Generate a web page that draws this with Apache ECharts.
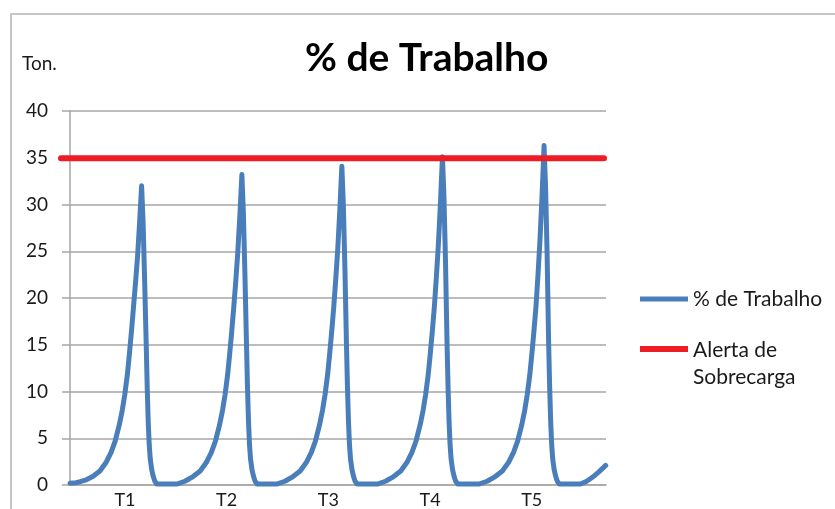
<!DOCTYPE html>
<html>
<head>
<meta charset="utf-8">
<script src="https://cdn.jsdelivr.net/npm/echarts@6/dist/echarts.min.js"></script>
<style>
  html, body { margin: 0; padding: 0; background: #fff; }
  #chart { width: 835px; height: 509px; }
</style>
</head>
<body>
<div id="chart"></div>
<script>
// eixo X: T1 = 100, T2 = 200 ...
const tickValues = [100, 200, 300, 400, 500];
const tickLabels = ["T1", "T2", "T3", "T4", "T5"];

// % de Trabalho
const workX = [
  46, 52, 56, 62,
  68.4, 75.4, 81.4, 86.4, 90.4, 94.4, 97.4, 99.9, 102.4, 104.4, 106.4, 108.4, 110.4, 112.4, 114.4, 116.4,
  117.9, 119.4, 120.9, 121.9, 122.9, 123.9, 124.9, 126.4, 127.9, 129.4, 131.4,
  151, 159, 167, 174, 180, 185, 189, 193, 196, 198.5, 201, 203, 205, 207, 209, 211, 213, 215,
  216.5, 218, 219.5, 220.5, 221.5, 222.5, 223.5, 225, 226.5, 228, 230,
  249.3, 257.3, 265.3, 272.3, 278.3, 283.3, 287.3, 291.3, 294.3, 296.8, 299.3, 301.3, 303.3, 305.3, 307.3, 309.3, 311.3, 313.3,
  314.8, 316.3, 317.8, 318.8, 319.8, 320.8, 321.8, 323.3, 324.8, 326.3, 328.3,
  348.2, 356.2, 364.2, 371.2, 377.2, 382.2, 386.2, 390.2, 393.2, 395.7, 398.2, 400.2, 402.2, 404.2, 406.2, 408.2, 410.2, 412.2,
  413.7, 415.2, 416.7, 417.7, 418.7, 419.7, 420.7, 422.2, 423.7, 425.2, 427.2,
  448.1, 456.1, 464.1, 471.1, 477.1, 482.1, 486.1, 490.1, 493.1, 495.6, 498.1, 500.1, 502.1, 504.1, 506.1, 508.1, 510.1, 512.1,
  513.6, 515.1, 516.6, 517.6, 518.6, 519.6, 520.6, 522.1, 523.6, 525.1, 527.1,
  548, 554, 560, 566, 572.7
];
const workY = [
  0.2, 0.25, 0.35, 0.55,
  0.9, 1.5, 2.4, 3.5, 4.7, 6.4, 8.0, 9.7, 11.8, 14.0, 16.4, 19.0, 21.6, 24.4, 28.0, 32.0,
  28.0, 21.8, 15.2, 10.5, 6.8, 4.3, 2.8, 1.6, 0.9, 0.4, 0.1,
  0.1, 0.4, 0.9, 1.5, 2.4, 3.5, 4.7, 6.4, 8.0, 9.7, 11.8, 14.0, 16.4, 19.0, 21.8, 24.9, 28.8, 33.2,
  29.0, 22.5, 15.2, 10.5, 6.8, 4.3, 2.8, 1.6, 0.9, 0.4, 0.1,
  0.1, 0.4, 0.9, 1.5, 2.4, 3.5, 4.7, 6.4, 8.0, 9.7, 11.8, 14.0, 16.4, 19.0, 22.0, 25.3, 29.4, 34.1,
  29.8, 23.2, 15.2, 10.5, 6.8, 4.3, 2.8, 1.6, 0.9, 0.4, 0.1,
  0.1, 0.4, 0.9, 1.5, 2.4, 3.5, 4.7, 6.4, 8.0, 9.7, 11.8, 14.0, 16.4, 19.0, 22.2, 25.7, 30.1, 35.1,
  30.7, 23.9, 15.2, 10.5, 6.8, 4.3, 2.8, 1.6, 0.9, 0.4, 0.1,
  0.1, 0.4, 0.9, 1.5, 2.4, 3.5, 4.7, 6.4, 8.0, 9.7, 11.8, 14.0, 16.4, 19.0, 22.4, 26.2, 30.9, 36.3,
  31.8, 24.7, 15.2, 10.5, 6.8, 4.3, 2.8, 1.6, 0.9, 0.4, 0.1,
  0.1, 0.4, 0.85, 1.4, 2.1
];

// Alerta de Sobrecarga (a linha sai um pouco à esquerda do eixo)
const alertX = [37, 571];
const alertY = [35, 35];

const fontFamily = "Lato";

const chart = echarts.init(document.getElementById("chart"), null, { renderer: "canvas" });

chart.setOption({
  animation: false,
  backgroundColor: "#fff",
  title: [
    {
      text: "% de Trabalho",
      left: 305,
      top: 39,
      padding: 0,
      textStyle: { fontFamily: fontFamily, fontWeight: "bold", fontSize: 39, color: "#000" },
    },
    {
      text: "Ton.",
      left: 22,
      top: 54,
      padding: 0,
      textStyle: { fontFamily: fontFamily, fontWeight: "normal", fontSize: 19, color: "#1a1a1a" },
    },
  ],
  legend: [
    {
      data: ["% de Trabalho"],
      left: 640,
      top: 285.5,
      padding: 0,
      icon: "rect",
      itemWidth: 48,
      itemHeight: 5,
      textStyle: { fontFamily: fontFamily, fontSize: 21, color: "#1a1a1a", lineHeight: 27 },
    },
    {
      data: ["Alerta de Sobrecarga"],
      left: 640,
      top: 317,
      padding: 0,
      icon: "rect",
      itemWidth: 48,
      itemHeight: 6,
      formatter: () => "{p| }\n{t|Alerta de}\n{t|Sobrecarga}",
      textStyle: {
        fontFamily: fontFamily,
        fontSize: 21,
        color: "#1a1a1a",
        rich: {
          p: { fontSize: 10, lineHeight: 30 },
          t: { fontFamily: fontFamily, fontSize: 21, color: "#1a1a1a", lineHeight: 27 },
        },
      },
    },
  ],
  grid: [
    { left: 70, right: 229, top: 111, bottom: 21 },
    { left: 61, right: 231, top: 111, bottom: 21 },
  ],
  xAxis: [
    {
      type: "value",
      min: 46,
      max: 573,
      minInterval: 100,
      maxInterval: 100,
      axisLine: { show: true, lineStyle: { color: "#a6a6a6", width: 1.5 } },
      axisTick: { show: false },
      splitLine: { show: false },
      axisLabel: {
        margin: 6,
        fontFamily: fontFamily,
        fontSize: 18,
        color: "#1a1a1a",
        showMinLabel: false,
        showMaxLabel: false,
        formatter: (v) => {
          const i = tickValues.indexOf(v);
          return i >= 0 ? tickLabels[i] : "";
        },
      },
    },
    { gridIndex: 1, type: "value", min: 37, max: 571, show: false },
  ],
  yAxis: [
    {
      type: "value",
      min: 0,
      max: 40,
      interval: 5,
      axisLine: { show: true, lineStyle: { color: "#a6a6a6", width: 1.5 } },
      axisTick: { show: true, length: 8, lineStyle: { color: "#a6a6a6", width: 1.5 } },
      splitLine: { show: true, lineStyle: { color: "#a6a6a6", width: 1.5 } },
      axisLabel: { margin: 22, fontFamily: fontFamily, fontSize: 19, color: "#1a1a1a" },
    },
    { gridIndex: 1, type: "value", min: 0, max: 40, show: false },
  ],
  graphic: [
    {
      type: "rect",
      silent: true,
      z: -1,
      shape: { x: 11, y: 14, width: 900, height: 600 },
      style: { fill: null, stroke: "#b4b4b4", lineWidth: 1.5 },
    },
  ],
  series: [
    {
      name: "% de Trabalho",
      type: "line",
      color: "#4a7ebb",
      showSymbol: false,
      symbol: "none",
      clip: false,
      z: 2,
      lineStyle: { width: 5, color: "#4a7ebb", cap: "round", join: "round" },
      data: workX.map((x, i) => [x, workY[i]]),
    },
    {
      name: "Alerta de Sobrecarga",
      type: "line",
      xAxisIndex: 1,
      yAxisIndex: 1,
      color: "#ee1c25",
      showSymbol: false,
      symbol: "none",
      clip: false,
      z: 3,
      lineStyle: { width: 6, color: "#ee1c25", cap: "round" },
      data: alertX.map((x, i) => [x, alertY[i]]),
    },
  ],
});

window.addEventListener("resize", () => {
  chart.resize();
});
</script>
</body>
</html>
